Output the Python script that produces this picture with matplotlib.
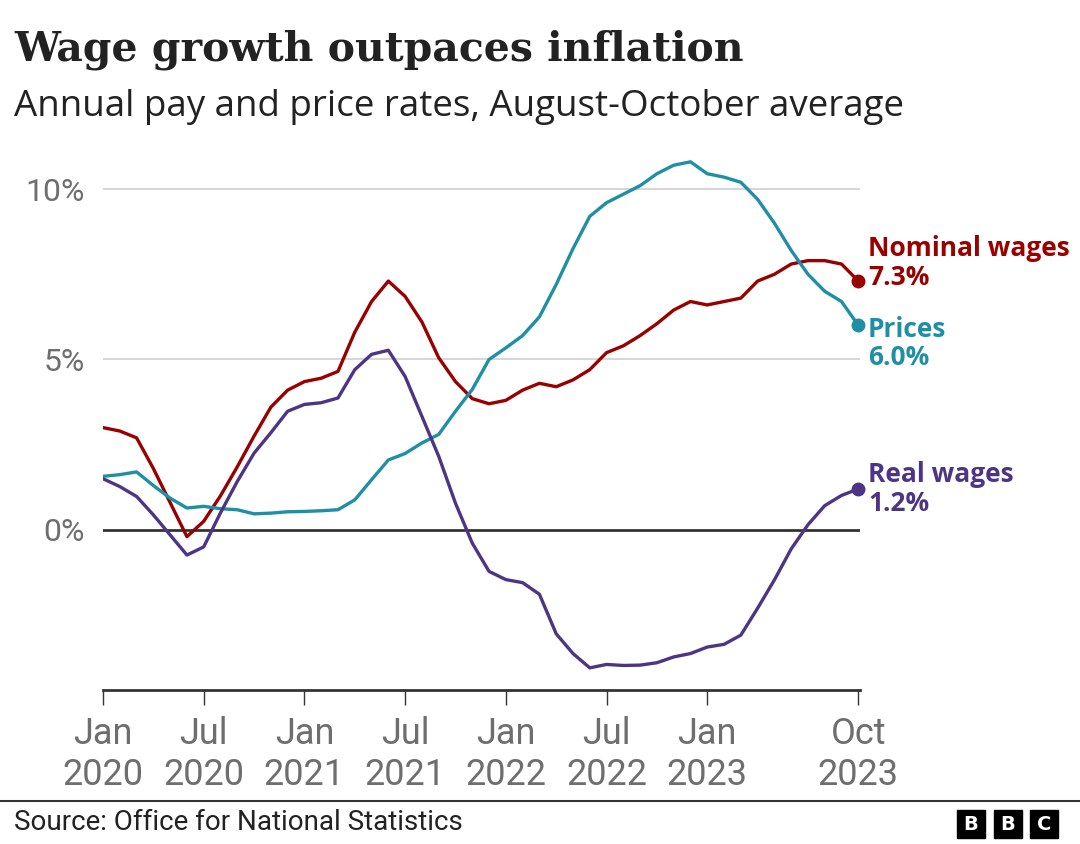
import numpy as np
import matplotlib
matplotlib.use("Agg")
import matplotlib.pyplot as plt
from matplotlib.patches import Rectangle


# Monthly data, Jan 2020 - Oct 2023 (annual %, Aug-Oct average)
months = np.arange(46)

nominal_wages = [3.0, 2.9, 2.7, 1.8, 0.8, -0.2, 0.25, 1.0, 1.85, 2.75, 3.6, 4.1,
                 4.35, 4.45, 4.65, 5.8, 6.7, 7.3, 6.85, 6.1, 5.05, 4.35, 3.85, 3.7,
                 3.8, 4.1, 4.3, 4.2, 4.4, 4.7, 5.2, 5.4, 5.7, 6.05, 6.45, 6.7,
                 6.6, 6.7, 6.8, 7.3, 7.5, 7.8, 7.9, 7.9, 7.8, 7.3]

prices = [1.57, 1.62, 1.7, 1.3, 0.93, 0.64, 0.69, 0.62, 0.59, 0.47, 0.49, 0.53,
          0.54, 0.56, 0.59, 0.88, 1.47, 2.05, 2.24, 2.55, 2.8, 3.48, 4.12, 5.0,
          5.34, 5.7, 6.25, 7.2, 8.25, 9.2, 9.6, 9.85, 10.1, 10.45, 10.7, 10.8,
          10.45, 10.35, 10.2, 9.7, 9.0, 8.2, 7.5, 7.0, 6.7, 6.0]

real_wages = [1.5, 1.27, 0.98, 0.44, -0.15, -0.74, -0.5, 0.5, 1.42, 2.25, 2.85, 3.48,
              3.68, 3.73, 3.87, 4.7, 5.15, 5.27, 4.5, 3.33, 2.16, 0.78, -0.39, -1.22,
              -1.46, -1.55, -1.89, -3.05, -3.63, -4.05, -3.95, -3.98, -3.97, -3.9, -3.73, -3.63,
              -3.44, -3.36, -3.09, -2.3, -1.47, -0.56, 0.15, 0.71, 1.01, 1.2]

tick_pos = [0, 6, 12, 18, 24, 30, 36, 45]
tick_labels = ["Jan\n2020", "Jul\n2020", "Jan\n2021", "Jul\n2021",
               "Jan\n2022", "Jul\n2022", "Jan\n2023", "Oct\n2023"]

series = [
    ("Nominal wages", nominal_wages, "#990000", 13),
    ("Prices", prices, "#1f8fa6", -13),
    ("Real wages", real_wages, "#4d3586", 0),
]

SANS = ["Roboto", "DejaVu Sans"]
GREY = "#6e6e6e"

fig = plt.figure(figsize=(10.8, 8.44), dpi=100)
ax = fig.add_axes([103 / 1080, 1 - 690 / 844, (860 - 103) / 1080, (690 - 155) / 844])

for name, values, colour, dy in series:
    ax.plot(months, values, color=colour, lw=2.4, solid_joinstyle="round", zorder=3)
    ax.plot(months[-1], values[-1], "o", color=colour, ms=9, zorder=4, clip_on=False)
    ax.annotate(f"{name}\n{values[-1]:.1f}%", xy=(months[-1], values[-1]),
                xytext=(7, dy), textcoords="offset points", ha="left", va="center",
                color=colour, fontsize=19, fontweight="bold", family=["Open Sans", "DejaVu Sans"],
                linespacing=1.08, annotation_clip=False)

ax.set_xlim(0, 45.1)
ax.set_ylim(-4.7, 11)

# grid and zero line
for v in [5, 10]:
    ax.axhline(v, color="#d0d0d0", lw=1.2, zorder=1)
ax.axhline(0, color="#333333", lw=2, zorder=2)

ax.set_yticks([0, 5, 10])
ax.set_yticklabels(["0%", "5%", "10%"])
ax.set_xticks(tick_pos)
ax.set_xticklabels(tick_labels, linespacing=1.15)

ax.tick_params(axis="y", length=0, pad=13, labelsize=23, labelcolor=GREY)
ax.tick_params(axis="x", length=11, width=1, color="#333333", pad=8,
               labelsize=26, labelcolor=GREY)
for lab in ax.get_xticklabels() + ax.get_yticklabels():
    lab.set_family(SANS)

for s in ["top", "right", "left"]:
    ax.spines[s].set_visible(False)
ax.spines["bottom"].set_color("#333333")
ax.spines["bottom"].set_linewidth(2)

# titles
fig.text(14 / 1080, 1 - 50 / 844, "Wage growth outpaces inflation", fontsize=29.5,
         fontweight="bold", family=["DejaVu Serif"], color="#222222", va="center")
fig.text(14 / 1080, 1 - 107 / 844, "Annual pay and price rates, August-October average",
         fontsize=26.5, family=["Open Sans", "DejaVu Sans"], color="#222222", va="center")

# footer
fig.add_artist(plt.Line2D([0, 1], [1 - 801 / 844] * 2, color="#333333", lw=1.5))
fig.text(14 / 1080, 1 - 823 / 844, "Source: Office for National Statistics", fontsize=20,
         family=SANS, color="#222222", va="center")

for i, letter in enumerate("BBC"):
    x0 = 957 + i * 36.5
    fig.add_artist(Rectangle((x0 / 1080, 1 - 838 / 844), 28 / 1080, 28 / 844,
                             transform=fig.transFigure, color="black"))
    fig.text((x0 + 14) / 1080, 1 - 824 / 844, letter, color="white", fontsize=14,
             fontweight="bold", family=["DejaVu Sans"], ha="center", va="center")

fig.savefig("out.png", dpi=100)
